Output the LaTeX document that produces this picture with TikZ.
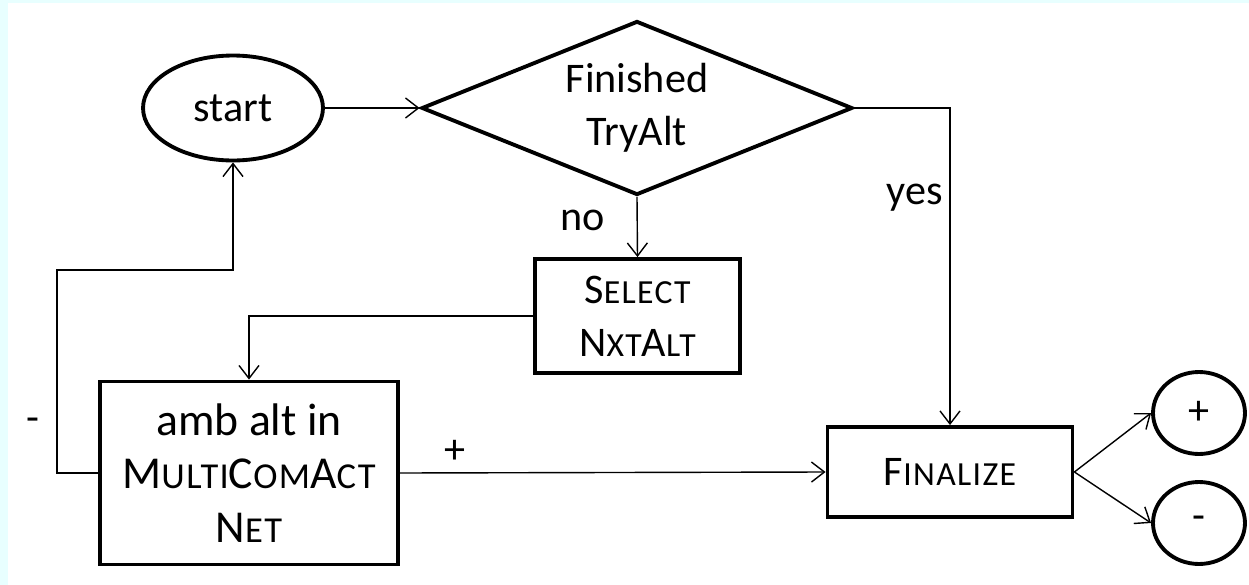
\documentclass[tikz,border=0pt]{standalone}
\usepackage{fontspec}
\setmainfont{Carlito}
\usetikzlibrary{shapes.geometric,arrows.meta}
\definecolor{bgcyan}{RGB}{232,255,255}
\makeatletter
\newcommand\fsc[1]{{\addfontfeature{LetterSpace=4}\fontsize{\dimexpr 0.8\dimexpr\f@size pt\relax\relax}{10pt}\selectfont #1}}
\makeatother

\begin{document}
\begin{tikzpicture}[x=0.02cm, y=-0.02cm,
	every node/.style={font=\fontsize{24}{30}\selectfont, inner sep=0pt},
	box/.style={draw, line width=2.2pt, rectangle, align=center},
	oval/.style={draw, line width=2.2pt, ellipse},
	decide/.style={draw, line width=2.2pt, diamond, aspect=2.48, align=center, minimum width=8.62cm, minimum height=3.48cm},
	arr/.style={line width=0.8pt, -{Straight Barb[length=0.26cm, width=0.4cm, line width=0.8pt]}},
	lbl/.style={font=\fontsize{24}{30}\selectfont}]
	\useasboundingbox (0,0) rectangle (1249,585);
	\fill[bgcyan] (0,0) rectangle (1249,585);
	\fill[white] (8,3) rectangle (1249,585);
	% nodes
	\node[oval, minimum width=3.6cm, minimum height=2.1cm] (start) at (233,108) {start};
	\node[decide] (fin) at (637,108) {Finished\\TryAlt};
	\node[box, minimum width=4.1cm, minimum height=2.28cm] (sel) at (637.5,316) {S\fsc{ELECT}\\N\fsc{XT}A\fsc{LT}};
	\node[box, minimum width=5.96cm, minimum height=3.66cm, font=\fontsize{26}{30.5}\selectfont] (amb) at (249,473) {amb alt in\\M\fsc{ULTI}C\fsc{OM}A\fsc{CT}\\N\fsc{ET}};
	\node[box, minimum width=4.9cm, minimum height=1.8cm] (final) at (950,472) {F\fsc{INALIZE}};
	\node[oval, minimum width=1.84cm, minimum height=1.64cm] (pos) at (1199,413) {+};
	\node[oval, minimum width=1.84cm, minimum height=1.64cm] (neg) at (1199,523) {-};
	\coordinate (back) at (57,270);
	% connectors
	\draw[arr] (start) -- (fin.west);
	\draw[arr] (fin.south) -- (sel.north);
	\draw[arr] (sel.west) -| (amb.north);
	\draw[arr] (amb.west) -| (back) -| (start.south);
	\draw[arr] (amb.east) -- (final.west);
	\draw[arr] (fin.east) -| (final.north);
	\draw[arr] (final.east) -- (pos.west);
	\draw[arr] (final.east) -- (neg.west);
	% labels
	\node[lbl] (no) at (583,220) {no};
	\node[lbl] (yes) at (915,198) {yes};
	\node[lbl] (plus) at (455,452) {+};
	\node[lbl] (minus) at (33,425) {-};
\end{tikzpicture}
\end{document}
